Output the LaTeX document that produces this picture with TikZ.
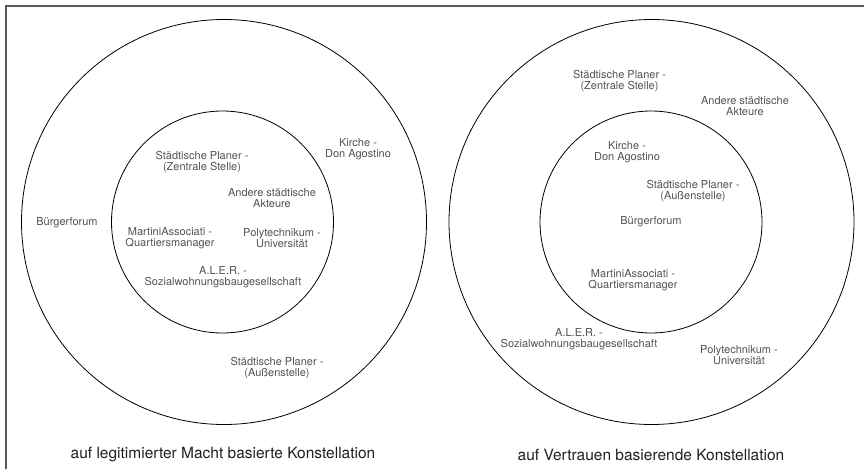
\documentclass[tikz,border=0pt]{standalone}
\usepackage{fontspec}
\setmainfont{TeX Gyre Heros}
\usepackage{tikz}
\usepackage{xcolor}

\begin{document}
\begin{tikzpicture}[
  x=1pt,y=-1pt,
  ring/.style={draw,circle,line width=0.8pt,inner sep=0pt},
  actor/.style={align=center,inner sep=1pt,text=black!68,font=\fontsize{11}{11.6}\selectfont},
  caption/.style={inner sep=1pt,text=black!88,font=\fontsize{15.5}{18}\selectfont},
  frame/.style={draw=black!65,line width=1.3pt}
]
\useasboundingbox (0,0) rectangle (864,469);
\coordinate (corner) at (6,6);
\coordinate (framebottom) at (6,469);
\coordinate (frameright) at (864,6);
\draw[frame] (framebottom) -- (corner) -- (frameright);

\node[ring,minimum size=405pt] (powerouter) at (224,222) {};
\node[ring,minimum size=222pt] (powerinner) at (222.5,222) {};
\node[ring,minimum size=405pt] (trustouter) at (651.5,222) {};
\node[ring,minimum size=222pt] (trustinner) at (651,222) {};

\node[actor] (powerzentral) at (202,162) {Städtische Planer -\\(Zentrale Stelle)};
\node[actor] (powerandere) at (272,198) {Andere städtische\\Akteure};
\node[actor] (powerkirche) at (358,149) {Kirche -\\Don Agostino};
\node[actor] (powerforum) at (67,223) {Bürgerforum};
\node[actor] (powermartini) at (170,238) {MartiniAssociati -\\Quartiersmanager};
\node[actor] (powerpoly) at (282,238) {Polytechnikum -\\Universität};
\node[actor] (poweraler) at (223,277) {A.L.E.R. -\\Sozialwohnungsbaugesellschaft};
\node[actor] (poweraussen) at (277,368) {Städtische Planer -\\(Außenstelle)};
\node[caption] (powertitle) at (223,455) {auf legitimierter Macht basierte Konstellation};

\node[actor] (trustzentral) at (619.5,81) {Städtische Planer -\\(Zentrale Stelle)};
\node[actor] (trustandere) at (745,106) {Andere städtische\\Akteure};
\node[actor] (trustkirche) at (627,152) {Kirche -\\Don Agostino};
\node[actor] (trustaussen) at (693,191) {Städtische Planer -\\(Außenstelle)};
\node[actor] (trustforum) at (651,222) {Bürgerforum};
\node[actor] (trustmartini) at (633,280) {MartiniAssociati -\\Quartiersmanager};
\node[actor] (trustaler) at (579,339) {A.L.E.R. -\\Sozialwohnungsbaugesellschaft};
\node[actor] (trustpoly) at (739,355) {Polytechnikum -\\Universität};
\node[caption] (trusttitle) at (651,455) {auf Vertrauen basierende Konstellation};
\end{tikzpicture}
\end{document}
